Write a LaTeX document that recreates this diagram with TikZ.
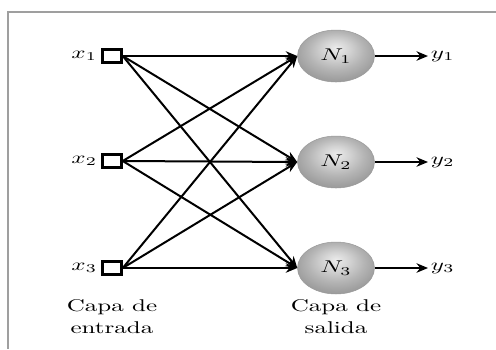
\documentclass[tikz,border=0pt]{standalone}
\usepackage{graphicx}
\usetikzlibrary{arrows.meta,shapes.geometric}

% text is set slightly flattened, as in the rest of the drawing
\newcommand{\squash}[1]{\scalebox{1}[0.68]{#1}}

% soft grey body, lightest just above the centre
\pgfdeclareradialshading{neuronshade}{\pgfpoint{0bp}{8bp}}{%
  color(0bp)=(gray!15); color(9bp)=(gray!35); color(18bp)=(gray!58);
  color(26bp)=(gray!75); color(34bp)=(gray!88); color(50bp)=(gray!100)}

\tikzset{
  inbox/.style={draw, line width=1pt, fill=white, minimum width=7.6pt,
    minimum height=5.2pt, inner sep=0pt},
  neuron/.style={ellipse, minimum width=30.8pt, minimum height=20.8pt,
    inner sep=0pt, shading=neuronshade, draw=gray!80, line width=0.2pt},
  link/.style={line width=0.8pt, -{Stealth[length=4.6pt,width=3.8pt]}},
  lbl/.style={inner sep=1pt},
  frame/.style={draw=gray!75, line width=0.7pt}
}

\begin{document}
\begin{tikzpicture}[x=0.4pt, y=-0.4pt]
  \useasboundingbox (0,0) rectangle (496,349);
  \fill[white] (0,0) rectangle (496,349);
  \draw[frame] (496,12) -- (8,12) -- (8,349);

  % input layer
  \node[inbox] (x1) at (112,56) {};
  \node[inbox] (x2) at (112,161) {};
  \node[inbox] (x3) at (112,268) {};
  \node[lbl, anchor=east] (lx1) at (100,56) {\squash{$x_1$}};
  \node[lbl, anchor=east] (lx2) at (100,161) {\squash{$x_2$}};
  \node[lbl, anchor=east] (lx3) at (100,268) {\squash{$x_3$}};

  % output layer
  \node[neuron] (n1) at (336,56) {\squash{$N_1$}};
  \node[neuron] (n2) at (336,162) {\squash{$N_2$}};
  \node[neuron] (n3) at (336,268) {\squash{$N_3$}};
  \node[lbl, anchor=west] (y1) at (428,56) {\squash{$y_1$}};
  \node[lbl, anchor=west] (y2) at (428,162) {\squash{$y_2$}};
  \node[lbl, anchor=west] (y3) at (428,268) {\squash{$y_3$}};

  % full connections
  \foreach \i in {1,2,3}{
    \foreach \j in {1,2,3}{
      \draw[link] (x\i.east) -- (n\j.west);
    }
    \draw[link] (n\i.east) -- (y\i.west);
  }

  % layer captions
  \node (cin) at (112,318) {\squash{\begin{tabular}{@{}c@{}}Capa de\\[1pt]entrada\end{tabular}}};
  \node (cout) at (336,318) {\squash{\begin{tabular}{@{}c@{}}Capa de\\[1pt]salida\end{tabular}}};
\end{tikzpicture}
\end{document}
